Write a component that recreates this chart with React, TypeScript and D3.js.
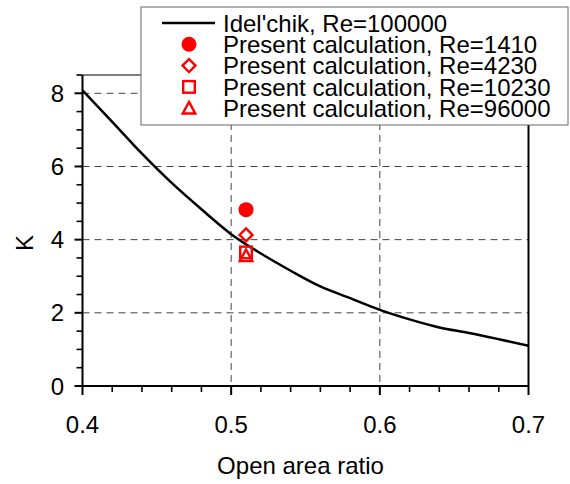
import React from "react";
import * as d3 from "d3";

const curveX = [0.4, 0.42, 0.44, 0.46, 0.48, 0.5, 0.52, 0.54, 0.56, 0.58, 0.6, 0.62, 0.64, 0.66, 0.68, 0.7];
const curveK = [8.08, 7.22, 6.35, 5.55, 4.83, 4.15, 3.62, 3.15, 2.72, 2.4, 2.08, 1.82, 1.6, 1.45, 1.28, 1.1];

const calcRe = ["1410", "4230", "10230", "96000"];
const calcX = [0.51, 0.51, 0.51, 0.51];
const calcK = [4.82, 4.13, 3.65, 3.56];
const calcShape = ["circle", "diamond", "square", "triangle"];

const xTicks = [0.4, 0.5, 0.6, 0.7];
const yTicks = [0, 2, 4, 6, 8];

const W = 570, H = 484;
const M = { left: 82.5, right: 528.5, top: 75, bottom: 386 };
const FONT = "Arial, 'Liberation Sans', sans-serif";
const RED = "#ff0000";

function Marker({ shape, cx, cy }: { shape: string; cx: number; cy: number }) {
  const sw = 2.4;
  if (shape === "circle") return <circle cx={cx} cy={cy} r={7.5} fill={RED} />;
  if (shape === "diamond") {
    const s = 6.5;
    return <path d={`M${cx},${cy - s}L${cx + s},${cy}L${cx},${cy + s}L${cx - s},${cy}Z`} fill="none" stroke={RED} strokeWidth={sw} />;
  }
  if (shape === "square") {
    const s = 5.8;
    return <rect x={cx - s} y={cy - s} width={2 * s} height={2 * s} fill="none" stroke={RED} strokeWidth={sw} />;
  }
  const s = 6.3;
  return <path d={`M${cx},${cy - s}L${cx + s},${cy + s * 0.85}L${cx - s},${cy + s * 0.85}Z`} fill="none" stroke={RED} strokeWidth={sw} strokeLinejoin="miter" />;
}

export default function App() {
  const x = d3.scaleLinear().domain([0.4, 0.7]).range([M.left, M.right]);
  const y = d3.scaleLinear().domain([0, 8.5]).range([M.bottom, M.top]);
  const y0 = y(0);
  const line = d3.line<number>().x((_, i) => x(curveX[i])).y((d) => y(d)).curve(d3.curveMonotoneX);

  const xMinor = d3.range(0, 16).map((i) => 0.4 + i * 0.02);
  const yMinor = d3.range(0, 18).map((i) => i * 0.5);

  const legX = 141, legY = 7, legW = 427, legH = 118;
  const rowY = (i: number) => 23 + i * 21.3;

  return (
    <svg width={W} height={H} style={{ position: "absolute", left: 0, top: 0, background: "#fff" }} fontFamily={FONT}>
      {/* grid */}
      {yTicks.filter((t) => t > 0).map((t) => (
        <line key={"gy" + t} x1={M.left} x2={M.right} y1={y(t)} y2={y(t)} stroke="#444" strokeWidth={1} strokeDasharray="7,5" />
      ))}
      {xTicks.filter((t) => t > 0.4 && t < 0.7).map((t) => (
        <line key={"gx" + t} x1={x(t)} x2={x(t)} y1={M.top} y2={M.bottom} stroke="#444" strokeWidth={1} strokeDasharray="7,5" />
      ))}
      {/* frame */}
      <line x1={M.left} x2={M.right} y1={M.top} y2={M.top} stroke="#000" strokeWidth={1} />
      <line x1={M.right} x2={M.right} y1={M.top} y2={M.bottom} stroke="#000" strokeWidth={2} />
      {/* curve */}
      <path d={line(curveK) || ""} fill="none" stroke="#000" strokeWidth={2.5} />
      {/* markers */}
      {calcK.map((k, i) => (
        <Marker key={"m" + i} shape={calcShape[i]} cx={x(calcX[i])} cy={y(k)} />
      ))}
      {/* axes */}
      <line x1={M.left} x2={M.left} y1={M.top} y2={y0} stroke="#000" strokeWidth={2} />
      <line x1={M.left} x2={M.right} y1={y0} y2={y0} stroke="#000" strokeWidth={2} />
      {xMinor.map((t, i) => {
        const major = i % 5 === 0;
        return <line key={"xt" + i} x1={x(t)} x2={x(t)} y1={y0} y2={y0 + (major ? 9 : 6)} stroke="#000" strokeWidth={major ? 2 : 1.6} />;
      })}
      {yMinor.map((t, i) => {
        const major = i % 4 === 0;
        return <line key={"yt" + i} x1={M.left - (major ? 8 : 6)} x2={M.left} y1={y(t)} y2={y(t)} stroke="#000" strokeWidth={major ? 2 : 1.6} />;
      })}
      {xTicks.map((t) => (
        <text key={"xl" + t} x={x(t)} y={433} fontSize={24} textAnchor="middle" fill="#000">{t.toFixed(1)}</text>
      ))}
      {yTicks.map((t) => (
        <text key={"yl" + t} x={64} y={y(t)} dy="0.36em" fontSize={24} textAnchor="end" fill="#000">{t}</text>
      ))}
      <text x={(M.left + M.right) / 2 - 5} y={474} fontSize={24} textAnchor="middle" fill="#000">Open area ratio</text>
      <text transform={`translate(33,243) rotate(-90)`} fontSize={24} textAnchor="middle" fill="#000">K</text>
      {/* legend */}
      <rect x={legX} y={legY} width={legW} height={legH} fill="#fff" stroke="#666" strokeWidth={1} />
      <line x1={162} x2={215} y1={rowY(0)} y2={rowY(0)} stroke="#000" strokeWidth={2.5} />
      <text x={223} y={rowY(0)} dy="0.36em" fontSize={24} fill="#000">Idel'chik, Re=100000</text>
      {calcRe.map((re, i) => (
        <g key={"lg" + i}>
          <Marker shape={calcShape[i]} cx={189} cy={rowY(i + 1)} />
          <text x={223} y={rowY(i + 1)} dy="0.36em" fontSize={24} fill="#000">{`Present calculation, Re=${re}`}</text>
        </g>
      ))}
    </svg>
  );
}
